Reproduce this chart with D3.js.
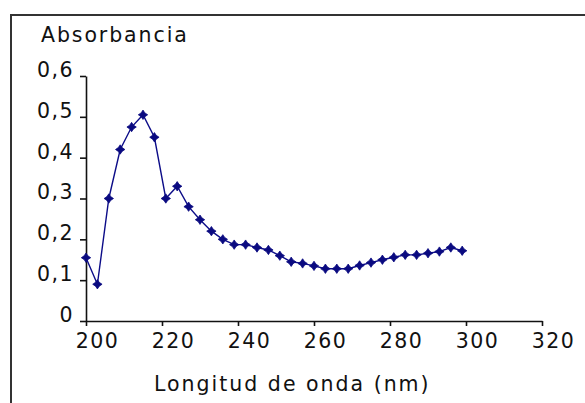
<!DOCTYPE html>
<html>
<head>
<meta charset="utf-8">
<script src="https://cdn.jsdelivr.net/npm/d3@7"></script>
<style>
  html, body { margin: 0; padding: 0; background: #fff; }
  svg { display: block; }
  text { font-family: "DejaVu Sans", Verdana, sans-serif; fill: #111; }
</style>
</head>
<body>
<svg id="chart" width="585" height="403"></svg>
<script>
const wavelengths = [200,203,206,209,212,215,218,221,224,227,230,233,236,239,242,245,248,251,254,257,260,263,266,269,272,275,278,281,284,287,290,293,296,299];
const absorbance = [0.155,0.09,0.30,0.42,0.475,0.505,0.45,0.30,0.33,0.28,0.248,0.22,0.20,0.187,0.187,0.18,0.174,0.16,0.145,0.141,0.135,0.128,0.128,0.128,0.136,0.143,0.15,0.156,0.162,0.162,0.166,0.17,0.18,0.172];
const xTicks = [200,220,240,260,280,300,320];
const yTicks = [0,0.1,0.2,0.3,0.4,0.5,0.6];
const yTitle = "Absorbancia";
const xTitle = "Longitud de onda (nm)";

const svg = d3.select("#chart");
const W = 585, H = 403;
const FS = "20.5px", LS = "1.5px";

// outer frame (top and left edges visible)
svg.append("path")
  .attr("d", `M11,${H} L11,15 L${W},15`)
  .attr("fill", "none").attr("stroke", "#333").attr("stroke-width", 2);

const x = d3.scaleLinear().domain([200, 320]).range([86, 542]);
const y = d3.scaleLinear().domain([0, 0.6]).range([321, 76]);

const fmt = v => v === 0 ? "0" : d3.format(".1f")(v).replace(".", ",");

// Y axis
const gy = svg.append("g").attr("transform", "translate(86,0)")
  .call(d3.axisLeft(y).tickValues(yTicks).tickFormat(fmt).tickSize(6).tickPadding(0).tickSizeOuter(0));
gy.select(".domain").attr("stroke", "#111").attr("stroke-width", 1.6);
gy.selectAll(".tick line").attr("stroke", "#111").attr("stroke-width", 1.6);
gy.selectAll(".tick text")
  .attr("x", -12).attr("dy", "0.02em")
  .style("font-size", FS).style("letter-spacing", LS)
  .attr("font-family", null).attr("fill", "#111");

// X axis
const gx = svg.append("g").attr("transform", "translate(0,321)")
  .call(d3.axisBottom(x).tickValues(xTicks).tickFormat(d3.format("d")).tickSize(5).tickPadding(0).tickSizeOuter(0));
gx.select(".domain").attr("stroke", "#111").attr("stroke-width", 1.6);
gx.selectAll(".tick line").attr("stroke", "#111").attr("stroke-width", 1.6);
gx.selectAll(".tick text")
  .attr("x", 11).attr("y", 27).attr("dy", null)
  .style("font-size", FS).style("letter-spacing", LS)
  .attr("font-family", null).attr("fill", "#111");

// Titles
svg.append("text").attr("x", 41).attr("y", 42)
  .style("font-size", FS).style("letter-spacing", "1.9px")
  .text(yTitle);
svg.append("text").attr("x", 154).attr("y", 391)
  .style("font-size", FS).style("letter-spacing", "2.0px")
  .text(xTitle);

// Data line
const data = wavelengths.map((w, i) => ({w, a: absorbance[i]}));
const line = d3.line().x(d => x(d.w)).y(d => y(d.a));
svg.append("path").datum(data)
  .attr("d", line)
  .attr("fill", "none").attr("stroke", "#0c0c88").attr("stroke-width", 1.4);

// Star markers
const star4 = {
  draw(ctx, size) {
    const r = Math.sqrt(size), k = r * 0.4;
    ctx.moveTo(0, -r); ctx.lineTo(k, -k); ctx.lineTo(r, 0); ctx.lineTo(k, k);
    ctx.lineTo(0, r); ctx.lineTo(-k, k); ctx.lineTo(-r, 0); ctx.lineTo(-k, -k);
    ctx.closePath();
  }
};
svg.append("g").selectAll("path").data(data).join("path")
  .attr("transform", d => `translate(${x(d.w)},${y(d.a)})`)
  .attr("d", d3.symbol().type(star4).size(22))
  .attr("fill", "#0a0a80").attr("stroke", "#0a0a80").attr("stroke-width", 0.8);
</script>
</body>
</html>
